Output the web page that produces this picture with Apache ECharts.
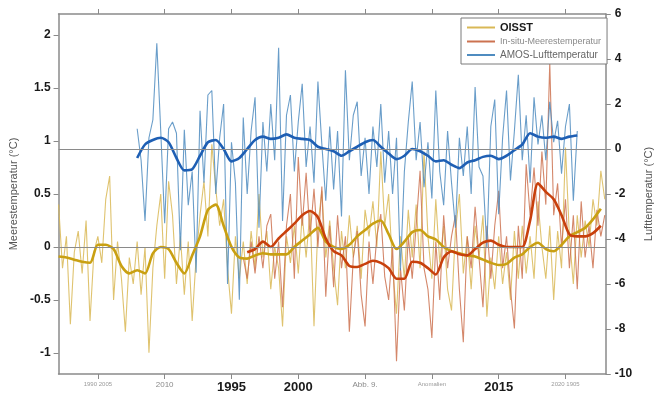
<!DOCTYPE html>
<html>
<head>
<meta charset="utf-8">
<script src="https://cdn.jsdelivr.net/npm/echarts@6/dist/echarts.min.js"></script>
<style>
  html, body { margin: 0; padding: 0; background: #fff; }
  #chart { width: 662px; height: 396px; }
</style>
</head>
<body>
<div id="chart"></div>
<script>
// x-Achse: fortlaufender Index, Beschriftung wie in der Vorlage
const tickValues = [10, 27, 44, 61, 78, 95, 112, 129];
const tickLabels = ['1990 2005', '2010', '1995', '2000', 'Abb. 9.', 'Anomalien', '2015', '2020 1905'];
const tickStyles = ['tiny', 'small', 'big', 'big', 'small', 'tiny', 'big', 'tiny'];

const leftTicks = [-1, -0.5, 0, 0.5, 1, 1.5, 2];

// OISST (Meerestemperatur, linke Achse), ab Index 0
const oisstStart = 0;
const oisstRaw = [
  0.4, -0.2, 0.1, -0.73, -0.05, 0.15, -0.25, 0.25, -0.7, -0.05,
  0.1, -0.15, 0.45, 0.67, -0.5, 0.05, -0.3, -0.8, -0.1, -0.35,
  0.05, -0.45, 0.0, -1.0, -0.2, 0.2, 0.5, -0.3, 0.62, 0.3,
  -0.35, 0.1, -0.45, 0.05, -0.7, -0.1, 0.3, 0.62, 0.1, 0.97,
  0.55, 0.2, 0.45, -0.2, -0.63, 0.1, -0.3, 0.05, -0.35, 0.15,
  -0.2, 0.5, -0.1, 0.15, -0.4, 0.0, -0.2, -0.75, 0.1, -0.15,
  0.2, -0.25, 0.3, -0.1, 0.35, -0.75, 0.2, 0.53, -0.1, 0.25,
  -0.2, -0.55, 0.15, -0.2, 0.3, -0.1, 0.2, -0.3, 0.35, 0.1,
  0.43, 0.0, 0.9, 0.2, 0.5, -0.2, -0.63, 0.1, -0.3, 0.35,
  -0.1, 0.4, -0.2, 0.9, 0.1, -0.3, 0.45, -0.15, 0.2, -0.4,
  -0.6, 0.15, 0.5, -0.25, 0.1, -0.4, 0.2, -0.1, 0.3, -0.66,
  -0.1, -0.4, 0.1, -0.35, -0.05, -0.5, 0.15, -0.3, 0.2, -0.25,
  0.1, -0.3, 0.43, 0.0, -0.3, 0.2, -0.5, 0.15, -0.2, 0.94,
  0.1, -0.35, 0.3, -0.1, 0.25, 0.0, 0.45, 0.2, 0.72, 0.45
];
const oisstSmooth = [
  -0.09, -0.1, -0.12, -0.14, -0.15, 0.02, 0.02, -0.02, -0.18, -0.25,
  -0.22, -0.25, -0.06, 0.0, -0.02, -0.15, -0.25, -0.08, 0.1, 0.35,
  0.4, 0.2, 0.0, -0.1, -0.11, -0.08, -0.06, -0.07, -0.07, -0.07,
  0.0, 0.06, 0.12, 0.18, 0.05, 0.0, -0.02, 0.02, 0.1, 0.16,
  0.22, 0.25, 0.12, -0.02, 0.05, 0.14, 0.16, 0.1, 0.07, 0.0,
  -0.04, -0.06, -0.08, -0.09, -0.12, -0.15, -0.17, -0.16, -0.1, -0.07,
  0.0, 0.04, -0.02, -0.04, 0.02, 0.1, 0.14, 0.18, 0.26, 0.36
];

// In-situ-Meerestemperatur (linke Achse), ab Index 47
const insituStart = 47;
const insituRaw = [
  -0.1, -0.3, 0.05,
  -0.25, 0.1, -0.2, 0.2, 0.31, -0.3, 0.05, -0.57, 0.2, 0.5,
  -0.3, 0.85, 0.2, 0.7, 0.1, 0.55, 0.0, 0.57, -0.47, 0.2,
  -0.38, 0.3, -0.2, 0.1, -0.8, -0.1, 0.15, -0.45, -0.75, 0.05,
  -0.35, 0.1, 0.31, -0.28, -0.5, 0.0, -1.08, -0.2, -0.6, 0.1,
  -0.3, 0.2, 0.72, -0.2, -0.4, -0.86, 0.05, -0.5, 0.3, -0.2,
  0.1, 0.3, -0.4, -0.9, 0.1, -0.2, 0.38, -0.1, -0.57, 0.2,
  -0.3, 0.2, 0.53, -0.2, 0.1, -0.4, -0.77, 0.2, -0.3, 0.78,
  0.3, 0.75, 0.2, 0.9, 0.4, 1.74, 0.3, 0.6, 0.0, 0.45,
  -0.2, 0.3, -0.4, 0.43, -0.1, 0.2, -0.2, 0.35, 0.1, 0.3
];
const insituSmoothStart = 48;
const insituSmooth = [
  -0.05, -0.02, 0.05, 0.0, 0.08, 0.15, 0.22, 0.3, 0.34, 0.28,
  0.08, -0.04, -0.08, -0.18, -0.19, -0.16, -0.13, -0.15, -0.2, -0.3,
  -0.3, -0.14, -0.15, -0.2, -0.26, -0.1, -0.04, -0.07, -0.08, -0.02,
  0.04, 0.06, 0.02, 0.0, 0.0, 0.0, 0.25, 0.6, 0.52, 0.45,
  0.3, 0.12, 0.1, 0.1, 0.13, 0.2
];

// AMOS-Lufttemperatur (rechte Achse), ab Index 20
const amosStart = 20;
const amosRaw = [
  0.9, -0.5, -3.2, 0.5, 1.3, 4.7, 0.8, -3.3, 0.9, 1.2,
  0.7, -4.5, 0.85, -2.5, -1.0, -5.5, 1.7, -1.5, 2.4, 2.6,
  -2.0, 0.5, 2.0, -6.0, 0.3, -1.5, -6.7, 1.4, -2.0, 0.8,
  2.3, -3.5, 1.2, -1.0, 2.0, -0.5, 4.5, -3.2, 1.5, 2.4,
  -1.0, 1.2, 2.9, -0.8, 1.0, -1.5, 3.0, 0.2, -2.3, 1.0,
  -1.8, 0.8, -3.0, 3.5, -0.5, 1.5, 2.1, -1.2, 0.5, -2.0,
  1.0, -0.8, 2.0, -1.5, 0.8, -2.0, 0.5, -5.4, -1.0, 1.2,
  3.0, -0.5, 1.2, -1.7, 0.3, -2.2, 2.6, -1.0, -2.5, 0.8,
  -1.5, -3.5, 0.5, -1.2, 1.0, -2.0, 2.75, -0.8, -1.2, -4.4,
  1.0, 2.2, -2.9, 0.5, 2.6, -1.4, 0.8, 3.3, -0.5, 1.5,
  -1.5, 2.3, 0.2, 1.5, -0.5, 2.1, 0.3, 1.25, -1.1, 1.0, 2.0, -2.3, 0.8
];
const amosSmooth = [
  -0.4, 0.2, 0.4, 0.5, 0.3, -0.4, -0.95, -0.9, -0.3, 0.3,
  0.4, 0.0, -0.55, -0.4, 0.0, 0.4, 0.55, 0.45, 0.5, 0.65,
  0.5, 0.45, 0.4, 0.1, 0.0, -0.1, -0.3, -0.1, 0.1, 0.3,
  0.4, 0.1, -0.2, -0.45, -0.3, 0.0, -0.1, -0.3, -0.55, -0.5,
  -0.7, -0.85, -0.6, -0.5, -0.35, -0.3, -0.45, -0.3, -0.05, 0.2,
  0.7, 0.55, 0.5, 0.55, 0.45, 0.55, 0.6
];

(function () {
  'use strict';

  const FONT = '"Liberation Sans", Arial, sans-serif';
  const AXIS_GRAY = '#8a8a8a';

  // Werte mit fortlaufendem Index verknüpfen
  function toPairs(start, step, values) {
    return values.map(function (v, i) { return [start + i * step, v]; });
  }

  function rawLine(name, color, yAxisIndex, data) {
    return {
      name: name,
      type: 'line',
      yAxisIndex: yAxisIndex,
      data: data,
      symbol: 'none',
      color: color,
      lineStyle: { width: 1.1, color: color, opacity: 0.85 },
      z: 2
    };
  }

  function smoothLine(name, color, yAxisIndex, data) {
    return {
      name: name,
      type: 'line',
      yAxisIndex: yAxisIndex,
      data: data,
      symbol: 'none',
      smooth: 0.25,
      color: color,
      lineStyle: { width: 2.6, color: color },
      z: 4
    };
  }

  function zeroLine() {
    return {
      silent: true,
      symbol: 'none',
      label: { show: false },
      lineStyle: { color: AXIS_GRAY, width: 1, type: 'solid' },
      data: [{ yAxis: 0 }]
    };
  }

  const axisLine = { show: true, onZero: false, lineStyle: { color: AXIS_GRAY, width: 1.5 } };

  const oisstSeries = rawLine('OISST', '#d9b856', 0, toPairs(oisstStart, 1, oisstRaw));
  oisstSeries.markLine = zeroLine();
  const amosSeries = rawLine('AMOS-Lufttemperatur', '#4f8cc0', 1, toPairs(amosStart, 1, amosRaw));
  amosSeries.markLine = zeroLine();

  const chart = echarts.init(document.getElementById('chart'));

  const option = {
    backgroundColor: '#fff',
    animation: false,
    textStyle: { fontFamily: FONT },
    grid: { left: 57, right: 48, top: 14, bottom: 22 },
    legend: {
      left: 461,
      top: 18,
      orient: 'vertical',
      icon: 'rect',
      itemWidth: 28,
      itemHeight: 2,
      itemGap: 4,
      padding: [4, 6, 4, 6],
      borderColor: '#7a7a7a',
      borderWidth: 1,
      backgroundColor: '#fff',
      data: [
        { name: 'OISST', textStyle: { fontWeight: 'bold', color: '#1a1a1a', fontSize: 11 } },
        { name: 'In-situ-Meerestemperatur', textStyle: { color: '#8a8a8a', fontSize: 9 } },
        { name: 'AMOS-Lufttemperatur', textStyle: { color: '#666', fontSize: 10 } }
      ]
    },
    xAxis: [
      {
        type: 'value',
        position: 'bottom',
        min: 0,
        max: 139.25,
        axisLine: axisLine,
        axisTick: { show: true, customValues: tickValues, length: 5, lineStyle: { color: AXIS_GRAY } },
        splitLine: { show: false },
        axisLabel: {
          customValues: tickValues,
          margin: 7,
          formatter: function (v) {
            const i = tickValues.indexOf(v);
            return i < 0 ? '' : '{' + tickStyles[i] + '|' + tickLabels[i] + '}';
          },
          rich: {
            tiny: { fontSize: 6, color: '#9a9a9a' },
            small: { fontSize: 8, color: '#8a8a8a' },
            big: { fontSize: 13, fontWeight: 'bold', color: '#1a1a1a' }
          }
        }
      },
      {
        type: 'value',
        position: 'top',
        min: 0,
        max: 139.25,
        axisLine: axisLine,
        axisTick: { show: true, customValues: tickValues, length: 5, lineStyle: { color: AXIS_GRAY } },
        axisLabel: { show: false },
        splitLine: { show: false }
      }
    ],
    yAxis: [
      {
        type: 'value',
        position: 'left',
        min: -1.2,
        max: 2.2,
        name: 'Meerestemperatur (°C)',
        nameLocation: 'middle',
        nameRotate: 90,
        nameGap: 38,
        nameTextStyle: { color: '#555', fontSize: 11 },
        axisLine: axisLine,
        axisTick: { show: true, customValues: leftTicks, length: 5, lineStyle: { color: AXIS_GRAY } },
        axisLabel: {
          customValues: leftTicks,
          color: '#1a1a1a',
          fontSize: 12,
          fontWeight: 'bold',
          margin: 8
        },
        splitLine: { show: false }
      },
      {
        type: 'value',
        position: 'right',
        min: -10,
        max: 6,
        interval: 2,
        name: 'Lufttemperatur (°C)',
        nameLocation: 'middle',
        nameRotate: 90,
        nameGap: 36,
        nameTextStyle: { color: '#555', fontSize: 11 },
        axisLine: axisLine,
        axisTick: { show: true, length: 5, lineStyle: { color: AXIS_GRAY } },
        axisLabel: { color: '#1a1a1a', fontSize: 12, fontWeight: 'bold', margin: 9 },
        splitLine: { show: false }
      }
    ],
    series: [
      oisstSeries,
      rawLine('In-situ-Meerestemperatur', '#cc7250', 0, toPairs(insituStart, 1, insituRaw)),
      amosSeries,
      smoothLine('OISST', '#c9a012', 0, toPairs(oisstStart, 2, oisstSmooth)),
      smoothLine('In-situ-Meerestemperatur', '#c8400c', 0, toPairs(insituSmoothStart, 2, insituSmooth)),
      smoothLine('AMOS-Lufttemperatur', '#1e5fb4', 1, toPairs(amosStart, 2, amosSmooth))
    ]
  };

  chart.setOption(option);
})();
</script>
</body>
</html>
